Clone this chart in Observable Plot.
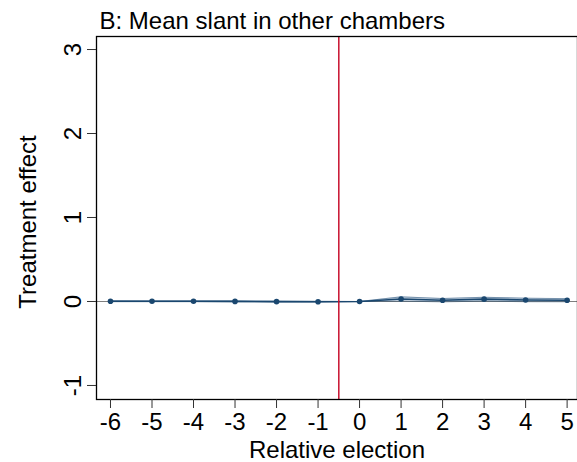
<!DOCTYPE html>
<html>
<head>
<meta charset="utf-8">
<script src="https://cdn.jsdelivr.net/npm/d3@7"></script>
<script src="https://cdn.jsdelivr.net/npm/@observablehq/plot@0.6"></script>
<style>
  html, body { margin: 0; padding: 0; background: #fff; }
  svg { display: block; }
</style>
</head>
<body>
<div id="chart"></div>
<script>
const relElection = [-6, -5, -4, -3, -2, -1, 0, 1, 2, 3, 4, 5];
const estimate    = [0.003, 0.002, 0.002, 0.001, -0.002, -0.003, 0, 0.03, 0.015, 0.028, 0.018, 0.015];
const ciLow       = [-0.003, -0.003, -0.003, -0.004, -0.007, -0.008, 0, 0.005, -0.005, 0.005, -0.003, -0.004];
const ciHigh      = [0.009, 0.007, 0.007, 0.006, 0.003, 0.002, 0, 0.055, 0.035, 0.05, 0.039, 0.034];
const xTicks = [-6, -5, -4, -3, -2, -1, 0, 1, 2, 3, 4, 5];
const yTicks = [-1, 0, 1, 2, 3];
const treatmentLine = -0.5;
const titleText = "B: Mean slant in other chambers";
const xLabel = "Relative election";
const yLabel = "Treatment effect";

const data = relElection.map((x, i) => ({x, y: estimate[i], lo: ciLow[i], hi: ciHigh[i]}));
const font = "Liberation Sans, Arial, Helvetica, sans-serif";
const navy = "#1a476f";
const fmt = d => (d < 0 ? "-" + Math.abs(d) : String(d));

const chart = Plot.plot({
  width: 577,
  height: 462,
  marginTop: 36,
  marginBottom: 63,
  marginLeft: 96,
  marginRight: 0,
  style: {fontFamily: font, background: "#fff"},
  x: {domain: [-6.337, 5.25], axis: null},
  y: {domain: [-1.167, 3.155], axis: null},
  marks: [
    Plot.ruleY([0], {stroke: "#7f7f7f", strokeWidth: 1.2}),
    Plot.areaY(data, {x: "x", y1: "lo", y2: "hi", fill: "#8fa8c4", fillOpacity: 0.5}),
    Plot.lineY(data, {x: "x", y: "lo", stroke: navy, strokeWidth: 0.8, strokeOpacity: 0.6}),
    Plot.lineY(data, {x: "x", y: "hi", stroke: navy, strokeWidth: 0.8, strokeOpacity: 0.6}),
    Plot.lineY(data, {x: "x", y: "y", stroke: navy, strokeWidth: 1.6}),
    Plot.dot(data, {x: "x", y: "y", r: 2.8, fill: navy, stroke: "none"}),
    Plot.ruleX([treatmentLine], {stroke: "#c8102e", strokeWidth: 1.5}),
    Plot.frame({stroke: "#000", strokeWidth: 1.3}),
    Plot.axisX(xTicks, {tickSize: 9, tickPadding: 4, fontSize: 24, tickFormat: fmt, stroke: "#333", strokeWidth: 1, fill: "#000", label: null}),
    Plot.axisY(yTicks, {tickSize: 9, tickPadding: 7, fontSize: 24, tickFormat: fmt, tickRotate: -90, stroke: "#333", strokeWidth: 1, fill: "#000", label: null, textAnchor: "middle"}),
    Plot.text([titleText], {frameAnchor: "top-left", dx: 3, dy: -15, lineAnchor: "middle", fontSize: 24, textAnchor: "start", fill: "#000"}),
    Plot.text([xLabel], {frameAnchor: "bottom", dy: 51, lineAnchor: "middle", fontSize: 24, textAnchor: "middle", fill: "#000"}),
    Plot.text([yLabel], {frameAnchor: "left", dx: -68, dy: 4, rotate: -90, fontSize: 24, textAnchor: "middle", fill: "#000"})
  ]
});
document.getElementById("chart").appendChild(chart);
</script>
</body>
</html>
